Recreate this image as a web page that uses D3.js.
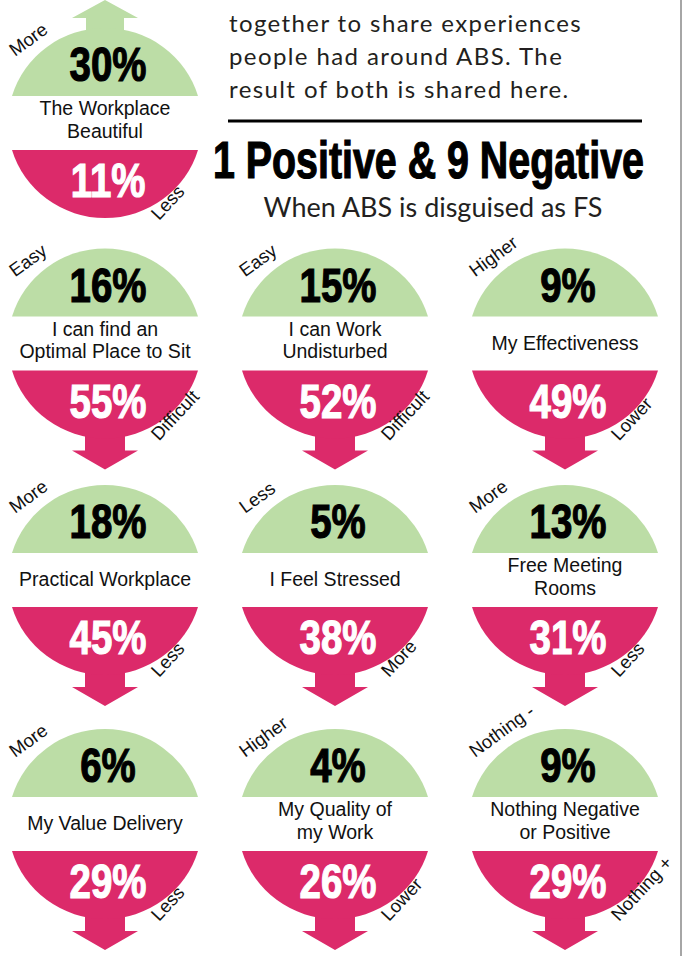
<!DOCTYPE html>
<html>
<head>
<meta charset="utf-8">
<script src="https://cdn.jsdelivr.net/npm/d3@7/dist/d3.min.js"></script>
<style>
  html, body { margin: 0; padding: 0; background: #fff; }
  svg { display: block; }
</style>
</head>
<body>
<script>
// survey topics, share of people saying it got better / worse
const topics = [
    ["The Workplace", "Beautiful"],
    ["I can find an", "Optimal Place to Sit"],
    ["I can Work", "Undisturbed"],
    ["My Effectiveness"],
    ["Practical Workplace"],
    ["I Feel Stressed"],
    ["Free Meeting", "Rooms"],
    ["My Value Delivery"],
    ["My Quality of", "my Work"],
    ["Nothing Negative", "or Positive"]
];
const positiveShare = [30, 16, 15, 9, 18, 5, 13, 6, 4, 9];
const negativeShare = [11, 55, 52, 49, 45, 38, 31, 29, 26, 29];
const positiveWord = ["More", "Easy", "Easy", "Higher", "More", "Less", "More", "More", "Higher", "Nothing -"];
const negativeWord = ["Less", "Difficult", "Difficult", "Lower", "Less", "More", "Less", "Less", "Lower", "Nothing +"];
const verdict = ["positive", "negative", "negative", "negative", "negative", "negative", "negative", "negative", "negative", "negative"];

const introLines = ["together to share experiences", "people had around ABS. The", "result of both is shared here."];
const headline = "1 Positive & 9 Negative";
const subline = "When ABS is disguised as FS";

const green = "#bcdda6", pink = "#dc2a6a";

const svg = d3.select("body").append("svg")
    .attr("width", 683)
    .attr("height", 956);

// grid: first item sits alone top-left, others 3 per row
const cells = topics.map(function (t, i) {
    return {
        topic: t,
        pos: positiveShare[i],
        neg: negativeShare[i],
        posWord: positiveWord[i],
        negWord: negativeWord[i],
        verdict: verdict[i],
        col: i === 0 ? 0 : (i - 1) % 3,
        row: i === 0 ? 0 : Math.floor((i - 1) / 3) + 1
    };
});

const x = d3.scalePoint().domain([0, 1, 2]).range([105, 565]);
const y = d3.scaleOrdinal().domain([0, 1, 2, 3]).range([123, 343.5, 580, 824]);

const rx = 97, ry = 95, gap = 27;
const half = rx * Math.sqrt(1 - (gap / ry) * (gap / ry));

const cell = svg.append("g")
    .selectAll("g")
    .data(cells)
    .enter().append("g")
    .attr("transform", function (d) { return "translate(" + x(d.col) + "," + y(d.row) + ")"; });

// arrows first so the dome covers the shaft end
cell.filter(function (d) { return d.verdict === "positive"; })
    .append("path")
    .attr("fill", green)
    .attr("d", function () {
        const b = -ry + 4, s = -ry - 10, t = -ry - 28;
        return "M-19," + b + "L-19," + s + "L-33," + s + "L0," + t + "L33," + s + "L19," + s + "L19," + b + "Z";
    });

cell.filter(function (d) { return d.verdict === "negative"; })
    .append("path")
    .attr("fill", pink)
    .attr("d", function () {
        const b = ry - 4, s = ry + 12, t = ry + 31;
        return "M-20," + b + "L-20," + s + "L-33," + s + "L0," + t + "L33," + s + "L20," + s + "L20," + b + "Z";
    });

cell.append("path")
    .attr("fill", green)
    .attr("d", "M" + (-half) + "," + (-gap) + "A" + rx + "," + ry + " 0 0 1 " + half + "," + (-gap) + "Z");

cell.append("path")
    .attr("fill", pink)
    .attr("d", "M" + half + "," + gap + "A" + rx + "," + ry + " 0 0 1 " + (-half) + "," + gap + "Z");

// percentages
cell.append("text")
    .attr("transform", "translate(3,-42) scale(0.8,1)")
    .attr("text-anchor", "middle")
    .style("font-family", "'Liberation Sans', Arial, sans-serif")
    .style("font-weight", "bold")
    .style("font-size", "48px")
    .attr("fill", "#000")
    .attr("stroke", "#000")
    .attr("stroke-width", 1.2)
    .text(function (d) { return d.pos + "%"; });

cell.append("text")
    .attr("transform", "translate(3,74) scale(0.8,1)")
    .attr("text-anchor", "middle")
    .style("font-family", "'Liberation Sans', Arial, sans-serif")
    .style("font-weight", "bold")
    .style("font-size", "48px")
    .attr("fill", "#fff")
    .attr("stroke", "#fff")
    .attr("stroke-width", 1.2)
    .text(function (d) { return d.neg + "%"; });

// topic in the white band
cell.append("text")
    .attr("text-anchor", "middle")
    .style("font-family", "'Liberation Sans', Arial, sans-serif")
    .style("font-size", "19.5px")
    .attr("fill", "#111")
    .each(function (d) {
        const t = d3.select(this);
        const y0 = d.topic.length > 1 ? -8 : 6;
        d.topic.forEach(function (line, k) {
            t.append("tspan").attr("x", 0).attr("y", y0 + k * 22.5).text(line);
        });
    });

// little words along the rim
cell.append("text")
    .attr("transform", "translate(-90,-66) rotate(-36)")
    .style("font-family", "'Liberation Sans', Arial, sans-serif")
    .style("font-size", "18.5px")
    .attr("fill", "#111")
    .text(function (d) { return d.posWord; });

cell.append("text")
    .attr("transform", "translate(54,98) rotate(-47)")
    .style("font-family", "'Liberation Sans', Arial, sans-serif")
    .style("font-size", "18.5px")
    .attr("fill", "#111")
    .text(function (d) { return d.negWord; });

// intro text + headline on the right
svg.append("g")
    .selectAll("text")
    .data(introLines)
    .enter().append("text")
    .attr("x", 229)
    .attr("y", function (d, i) { return 32 + i * 33; })
    .style("font-family", "Lato, 'Noto Sans', sans-serif")
    .style("font-size", "24px")
    .style("letter-spacing", "1.4px")
    .attr("fill", "#231f20")
    .text(function (d) { return d; });

svg.append("line")
    .attr("x1", 228).attr("x2", 642)
    .attr("y1", 121).attr("y2", 121)
    .attr("stroke", "#000")
    .attr("stroke-width", 3);

// condensed bold headline: squeeze a bold sans to the measured width
const head = svg.append("text")
    .style("font-family", "'Liberation Sans', Arial, sans-serif")
    .style("font-weight", "bold")
    .style("font-size", "51px")
    .attr("fill", "#000")
    .attr("stroke", "#000")
    .attr("stroke-width", 1.2)
    .text(headline);
const headW = head.node().getComputedTextLength();
head.attr("transform", "translate(213,178) scale(" + (431 / headW) + ",1)");

svg.append("text")
    .attr("x", 433)
    .attr("y", 217)
    .attr("text-anchor", "middle")
    .style("font-family", "Lato, 'Noto Sans', sans-serif")
    .style("font-size", "27px")
    .attr("fill", "#231f20")
    .text(subline);

// page edge
svg.append("line")
    .attr("x1", 681).attr("x2", 681)
    .attr("y1", 0).attr("y2", 956)
    .attr("stroke", "#888")
    .attr("stroke-width", 1.5);
</script>
</body>
</html>
